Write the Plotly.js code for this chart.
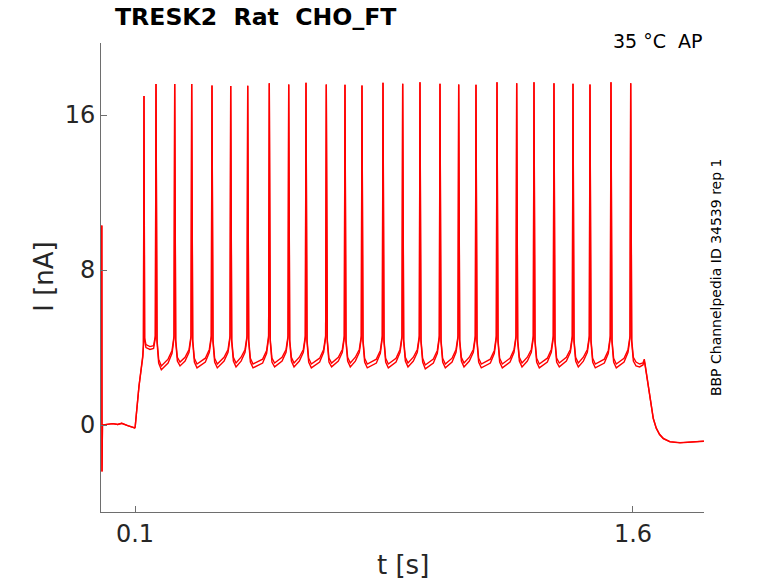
<!DOCTYPE html>
<html>
<head>
<meta charset="utf-8">
<script src="https://cdn.plot.ly/plotly-3.0.1.min.js"></script>
<style>
  html, body { margin: 0; padding: 0; background: #fff; }
  #plot { width: 778px; height: 583px; }
</style>
</head>
<body>
<div id="plot"></div>
<script>
// holding current before the step (seconds / nA), both reps overlap here
const tStart = [0, 0.0006, 0.002, 0.010, 0.033, 0.048, 0.060, 0.078, 0.099, 0.1005, 0.112, 0.1235, 0.1255]
const aStart = [10.3, -2.4, 0.0, 0.02, 0.07, 0.03, 0.09, -0.03, -0.15, -0.1, 2.0, 3.6, 4.2]
const bStart = [10.3, -2.4, 0.0, 0.02, 0.07, 0.03, 0.09, -0.03, -0.15, -0.1, 2.0, 3.5, 4.1]

// spike train, one row per spike: peak, fall, trough, rise towards next spike
const tTrain = [
  0.1271, 0.1290, 0.1330, 0.1450, 0.1560, 0.1613,
  0.1633, 0.1663, 0.1713, 0.1793, 0.1996, 0.2116, 0.2176,
  0.2196, 0.2226, 0.2276, 0.2356, 0.2508, 0.2628, 0.2688,
  0.2708, 0.2738, 0.2788, 0.2868, 0.3119, 0.3239, 0.3299,
  0.3319, 0.3349, 0.3399, 0.3479, 0.3683, 0.3803, 0.3863,
  0.3883, 0.3913, 0.3963, 0.4043, 0.4195, 0.4315, 0.4375,
  0.4395, 0.4425, 0.4475, 0.4555, 0.4845, 0.4965, 0.5025,
  0.5045, 0.5075, 0.5125, 0.5205, 0.5430, 0.5550, 0.5610,
  0.5630, 0.5660, 0.5710, 0.5790, 0.5951, 0.6071, 0.6131,
  0.6151, 0.6181, 0.6231, 0.6311, 0.6562, 0.6682, 0.6742,
  0.6762, 0.6792, 0.6842, 0.6922, 0.7125, 0.7245, 0.7305,
  0.7325, 0.7355, 0.7405, 0.7485, 0.7637, 0.7757, 0.7817,
  0.7837, 0.7867, 0.7917, 0.7997, 0.8270, 0.8390, 0.8450,
  0.8470, 0.8500, 0.8550, 0.8630, 0.8863, 0.8983, 0.9043,
  0.9063, 0.9093, 0.9143, 0.9223, 0.9384, 0.9504, 0.9564,
  0.9584, 0.9614, 0.9664, 0.9744, 0.9987, 1.0107, 1.0167,
  1.0187, 1.0217, 1.0267, 1.0347, 1.0550, 1.0670, 1.0730,
  1.0750, 1.0780, 1.0830, 1.0910, 1.1071, 1.1191, 1.1251,
  1.1271, 1.1301, 1.1351, 1.1431, 1.1704, 1.1824, 1.1884,
  1.1904, 1.1934, 1.1984, 1.2064, 1.2297, 1.2417, 1.2477,
  1.2497, 1.2527, 1.2577, 1.2657, 1.2818, 1.2938, 1.2998,
  1.3018, 1.3048, 1.3098, 1.3178, 1.3420, 1.3540, 1.3600,
  1.3620, 1.3650, 1.3700, 1.3780, 1.3993, 1.4113, 1.4173,
  1.4193, 1.4223, 1.4273, 1.4353, 1.4505, 1.4625, 1.4685,
  1.4705, 1.4735, 1.4785, 1.4865, 1.5137, 1.5257, 1.5317,
  1.5337, 1.5367, 1.5417, 1.5497, 1.5731, 1.5851, 1.5911,
  1.5931, 1.5961, 1.6011, 1.6091, 1.6200, 1.6300, 1.6340
]
const aTrain = [
  16.98, 4.50, 4.15, 4.05, 4.10, 4.60,
  17.60, 4.40, 3.40, 3.05, 3.40, 3.85, 4.60,
  17.60, 4.40, 3.50, 3.25, 3.50, 3.90, 4.60,
  17.60, 4.40, 3.45, 3.15, 3.45, 3.90, 4.60,
  17.53, 4.40, 3.45, 3.15, 3.50, 3.90, 4.60,
  17.50, 4.40, 3.50, 3.20, 3.50, 3.90, 4.60,
  17.51, 4.40, 3.45, 3.15, 3.40, 3.85, 4.60,
  17.64, 4.40, 3.45, 3.20, 3.50, 3.90, 4.60,
  17.58, 4.40, 3.50, 3.20, 3.50, 3.90, 4.60,
  17.67, 4.40, 3.45, 3.15, 3.45, 3.90, 4.60,
  17.58, 4.40, 3.45, 3.20, 3.50, 3.90, 4.60,
  17.56, 4.40, 3.50, 3.20, 3.50, 3.90, 4.60,
  17.53, 4.40, 3.45, 3.15, 3.40, 3.85, 4.60,
  17.67, 4.40, 3.45, 3.15, 3.45, 3.90, 4.60,
  17.62, 4.40, 3.50, 3.20, 3.50, 3.90, 4.60,
  17.69, 4.40, 3.45, 3.10, 3.40, 3.85, 4.60,
  17.62, 4.40, 3.45, 3.15, 3.45, 3.90, 4.60,
  17.58, 4.40, 3.50, 3.20, 3.50, 3.90, 4.60,
  17.56, 4.40, 3.45, 3.15, 3.40, 3.85, 4.60,
  17.69, 4.40, 3.45, 3.15, 3.45, 3.90, 4.60,
  17.64, 4.40, 3.50, 3.20, 3.50, 3.90, 4.60,
  17.70, 4.40, 3.45, 3.15, 3.45, 3.90, 4.60,
  17.64, 4.40, 3.45, 3.20, 3.50, 3.90, 4.60,
  17.62, 4.40, 3.50, 3.20, 3.50, 3.90, 4.60,
  17.58, 4.40, 3.45, 3.15, 3.40, 3.85, 4.60,
  17.70, 4.40, 3.45, 3.15, 3.45, 3.90, 4.60,
  17.64, 4.40, 3.50, 3.25, 3.15, 3.20, 3.40
]
const bTrain = [
  16.98, 4.40, 4.00, 3.90, 3.95, 4.50,
  17.60, 4.30, 3.20, 2.85, 3.20, 3.70, 4.50,
  17.60, 4.30, 3.30, 3.05, 3.30, 3.75, 4.50,
  17.60, 4.30, 3.25, 2.95, 3.25, 3.75, 4.50,
  17.53, 4.30, 3.25, 2.95, 3.30, 3.75, 4.50,
  17.50, 4.30, 3.30, 3.00, 3.30, 3.75, 4.50,
  17.51, 4.30, 3.25, 2.95, 3.20, 3.70, 4.50,
  17.64, 4.30, 3.25, 3.00, 3.30, 3.75, 4.50,
  17.58, 4.30, 3.30, 3.00, 3.30, 3.75, 4.50,
  17.67, 4.30, 3.25, 2.95, 3.25, 3.75, 4.50,
  17.58, 4.30, 3.25, 3.00, 3.30, 3.75, 4.50,
  17.56, 4.30, 3.30, 3.00, 3.30, 3.75, 4.50,
  17.53, 4.30, 3.25, 2.95, 3.20, 3.70, 4.50,
  17.67, 4.30, 3.25, 2.95, 3.25, 3.75, 4.50,
  17.62, 4.30, 3.30, 3.00, 3.30, 3.75, 4.50,
  17.69, 4.30, 3.25, 2.90, 3.20, 3.70, 4.50,
  17.62, 4.30, 3.25, 2.95, 3.25, 3.75, 4.50,
  17.58, 4.30, 3.30, 3.00, 3.30, 3.75, 4.50,
  17.56, 4.30, 3.25, 2.95, 3.20, 3.70, 4.50,
  17.69, 4.30, 3.25, 2.95, 3.25, 3.75, 4.50,
  17.64, 4.30, 3.30, 3.00, 3.30, 3.75, 4.50,
  17.70, 4.30, 3.25, 2.95, 3.25, 3.75, 4.50,
  17.64, 4.30, 3.25, 3.00, 3.30, 3.75, 4.50,
  17.62, 4.30, 3.30, 3.00, 3.30, 3.75, 4.50,
  17.58, 4.30, 3.25, 2.95, 3.20, 3.70, 4.50,
  17.70, 4.30, 3.25, 2.95, 3.25, 3.75, 4.50,
  17.64, 4.30, 3.30, 3.05, 3.00, 3.10, 3.30
]

// decay after the step and the tail
const tEnd = [1.6361, 1.6431, 1.6512, 1.6611, 1.6700, 1.6800, 1.6913, 1.7114, 1.7416, 1.7800, 1.8137]
const aEnd = [3.18, 2.32, 1.29, 0.35, -0.15, -0.48, -0.69, -0.86, -0.91, -0.87, -0.83]
const bEnd = [3.12, 2.28, 1.26, 0.33, -0.17, -0.49, -0.70, -0.87, -0.92, -0.88, -0.84]

const tickX = [0.1, 1.6]
const tickXText = ['0.1', '1.6']
const tickY = [0, 8, 16]
const tickYText = ['0', '8', '16']

const t = tStart.concat(tTrain, tEnd)
const repA = aStart.concat(aTrain, aEnd)
const repB = bStart.concat(bTrain, bEnd)

const font = 'DejaVu Sans, Liberation Sans, sans-serif'
const ink = '#262626'

const traces = [
  { x: t, y: repB, type: 'scatter', mode: 'lines', line: { color: '#ff0000', width: 1.4 }, hoverinfo: 'skip' },
  { x: t, y: repA, type: 'scatter', mode: 'lines', line: { color: '#ff0000', width: 1.4 }, hoverinfo: 'skip' }
]

const axisBase = {
  showgrid: false,
  zeroline: false,
  showline: true,
  linecolor: '#6e6e6e',
  linewidth: 1,
  ticks: 'inside',
  ticklen: 6,
  tickcolor: '#6e6e6e',
  tickfont: { family: font, size: 24, color: ink },
  fixedrange: true
}

const layout = {
  width: 778,
  height: 583,
  margin: { l: 101, r: 74, t: 43, b: 71, pad: 0 },
  paper_bgcolor: '#fff',
  plot_bgcolor: '#fff',
  showlegend: false,
  xaxis: Object.assign({}, axisBase, {
    range: [-0.0024, 1.8139],
    tickvals: tickX,
    ticktext: tickXText
  }),
  yaxis: Object.assign({}, axisBase, {
    range: [-4.49, 19.72],
    tickvals: tickY,
    ticktext: tickYText
  }),
  annotations: [
    {
      text: '<b>TRESK2\u00a0\u00a0Rat\u00a0\u00a0CHO_FT</b>',
      xref: 'paper', yref: 'paper', x: 0.0206, y: 1.055,
      xanchor: 'left', yanchor: 'middle', showarrow: false,
      font: { family: font, size: 23.6, color: '#000' }
    },
    {
      text: '35 \u00b0C\u00a0\u00a0AP',
      xref: 'paper', yref: 'paper', x: 1.002, y: 1.004,
      xanchor: 'right', yanchor: 'middle', showarrow: false,
      font: { family: font, size: 19, color: '#000' }
    },
    {
      text: 'BBP Channelpedia ID 34539 rep 1',
      xref: 'paper', yref: 'paper', x: 1.02, y: 0.501,
      xanchor: 'center', yanchor: 'middle', showarrow: false, textangle: -90,
      font: { family: font, size: 14, color: '#000' }
    },
    {
      text: 'I [nA]',
      xref: 'paper', yref: 'paper', x: -0.095, y: 0.501,
      xanchor: 'center', yanchor: 'middle', showarrow: false, textangle: -90,
      font: { family: font, size: 26, color: ink }
    },
    {
      text: 't [s]',
      xref: 'paper', yref: 'paper', x: 0.5008, y: -0.113,
      xanchor: 'center', yanchor: 'middle', showarrow: false,
      font: { family: font, size: 26, color: ink }
    }
  ]
}

Plotly.newPlot('plot', traces, layout, { displayModeBar: false, staticPlot: true })
</script>
</body>
</html>
